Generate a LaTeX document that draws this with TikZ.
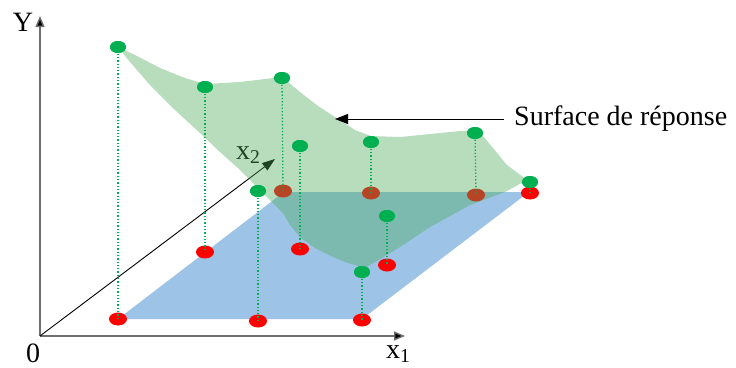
\documentclass[tikz,border=0pt]{standalone}
\usepackage{fontspec}
\setmainfont{Liberation Serif}
\usetikzlibrary{arrows.meta}
\definecolor{gdot}{RGB}{0,176,80}
\definecolor{rdot}{RGB}{255,0,0}
\definecolor{plane}{RGB}{157,195,230}
\definecolor{surf}{RGB}{75,170,90}
\definecolor{axgray}{RGB}{110,110,110}
\tikzset{
  greendot/.style={ellipse, fill=gdot, minimum width=16pt, minimum height=12pt, inner sep=0pt},
  reddot/.style={ellipse, fill=rdot, minimum width=18pt, minimum height=13pt, inner sep=0pt},
  axisline/.style={draw=axgray, line width=1.4pt, -{Triangle[length=11pt,width=9pt,fill=black]}},
  dotline/.style={draw=gdot, line width=1.3pt, dotted},
  lbl/.style={font=\fontsize{28}{30}\selectfont, inner sep=0pt}
}
\usetikzlibrary{shapes.geometric}
\begin{document}
\begin{tikzpicture}[x=1pt,y=-1pt]
\useasboundingbox (0,0) rectangle (736,367);
% axes
\coordinate (O) at (40,336);
\coordinate (Yt) at (40,16);
\coordinate (X1t) at (405,336);
\coordinate (X2t) at (275,159);
\draw[axisline] (O) -- (Yt);
\draw[axisline] (O) -- (X1t);
\draw[black, line width=0.9pt, -{Triangle[length=13pt,width=9pt]}] (O) -- (X2t);
\node[lbl] (ylab) at (23,22) {Y};
\node[lbl] (zero) at (33,353) {0};
\node[lbl, anchor=west] (x1lab) at (386,354) {x\textsubscript{1}};
\node[lbl, anchor=west] (x2lab) at (236,155) {x\textsubscript{2}};
% plane
\fill[plane] (118,319) -- (362,319) -- (529,192) -- (284,192) -- cycle;
% red dots
\node[reddot] (r1) at (118,319) {};
\node[reddot] (r2) at (258,321) {};
\node[reddot] (r3) at (362,320) {};
\node[reddot] (r4) at (205,252) {};
\node[reddot] (r5) at (300,249) {};
\node[reddot] (r6) at (387,265) {};
\node[reddot] (r7) at (283,191) {};
\node[reddot] (r8) at (371,193) {};
\node[reddot] (r9) at (476,195) {};
\node[reddot] (r10) at (530,193) {};
% surface
\fill[surf, fill opacity=0.4] (118,47) -- (135,55) -- (160,68) -- (185,78) -- (205,84)
  -- (240,82) -- (282,77) -- (300,92) -- (318,106) -- (335,117) -- (355,130)
  -- (371,136) -- (400,137) -- (430,134) -- (460,131) -- (478,130) -- (493,148)
  -- (507,165) -- (527,180) -- (505,192) -- (470,205) -- (430,227) -- (400,247)
  -- (365,268) -- (345,262) -- (333,257) -- (315,248) -- (300,237) -- (290,225)
  -- (283,213) -- (270,200) -- (255,185) -- (240,170) -- (220,152) -- (200,133)
  -- (175,110) -- (150,85) -- (130,62) -- cycle;
% green dots
\node[greendot] (g1) at (118,47) {};
\node[greendot] (g2) at (258,191) {};
\node[greendot] (g3) at (362,272) {};
\node[greendot] (g4) at (205,87) {};
\node[greendot] (g5) at (300,146) {};
\node[greendot] (g6) at (387,216) {};
\node[greendot] (g7) at (282,78) {};
\node[greendot] (g8) at (371,142) {};
\node[greendot] (g9) at (475,133) {};
\node[greendot] (g10) at (530,182) {};
% dotted lines
\foreach \g/\r in {g1/r1,g2/r2,g3/r3,g4/r4,g5/r5,g6/r6,g7/r7,g8/r8,g9/r9,g10/r10}
  \draw[dotline] (\g.center) -- (\r.center);
\foreach \g in {g1,g2,g3,g4,g5,g6,g7,g8,g9,g10}
  \fill[gdot] (\g) ellipse (8pt and 6pt);
% label
\node[lbl, anchor=west] (surflab) at (514,119) {Surface de réponse};
\coordinate (sa) at (335,119);
\draw[black, line width=0.9pt, -{Triangle[length=13pt,width=10pt]}] ([xshift=-10pt]surflab.west) -- (sa);
\end{tikzpicture}
\end{document}
